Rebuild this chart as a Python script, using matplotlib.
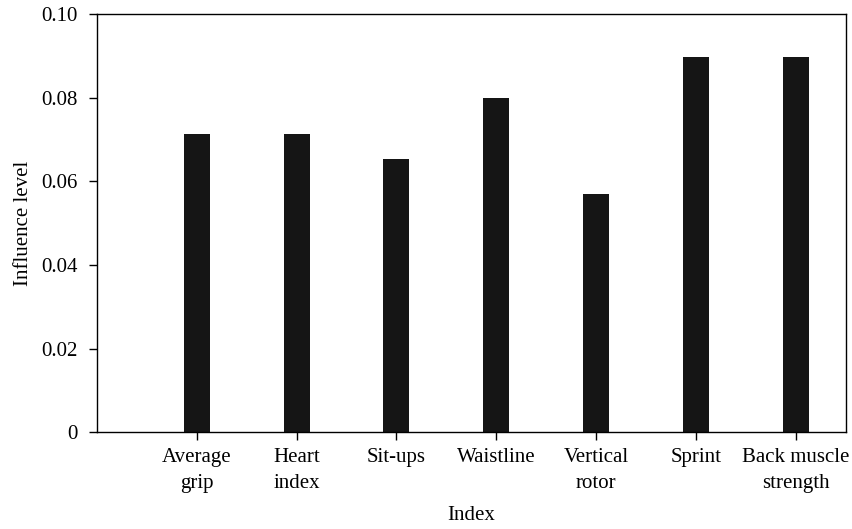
import matplotlib.pyplot as plt
import numpy as np

categories = ["Average\ngrip", "Heart\nindex", "Sit-ups", "Waistline",
              "Vertical\nrotor", "Sprint", "Back muscle\nstrength"]
values = [0.0713, 0.0713, 0.0653, 0.0799, 0.0570, 0.0897, 0.0897]
yticks = [0, 0.02, 0.04, 0.06, 0.08, 0.10]
ytick_labels = ["0", "0.02", "0.04", "0.06", "0.08", "0.10"]

plt.rcParams['font.family'] = ['Liberation Serif', 'DejaVu Serif']

fig = plt.figure(figsize=(8.53, 5.29), dpi=100)
ax = fig.add_axes([0.1137, 0.1828, 0.8777, 0.7907])

x = np.arange(1, len(categories) + 1)
ax.bar(x, values, width=0.26, color='#151515')

ax.set_xlim(0, 7.5)
ax.set_ylim(0, 0.10)
ax.set_xticks(x)
ax.set_xticklabels(categories, fontsize=15, linespacing=1.5)
ax.set_yticks(yticks)
ax.set_yticklabels(ytick_labels, fontsize=15)
ax.tick_params(direction='out', length=6, width=1, color='black', pad=5)
ax.tick_params(axis='y', pad=8)
for s in ax.spines.values():
    s.set_linewidth(1)
    s.set_color('black')

ax.set_xlabel("Index", fontsize=15, labelpad=10)
ax.set_ylabel("Influence level", fontsize=15, labelpad=6)

fig.savefig("out.png", dpi=100)
